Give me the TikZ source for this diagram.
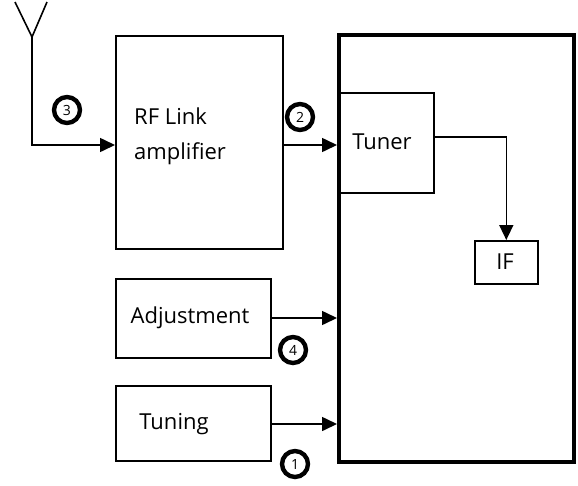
\documentclass[tikz,border=0pt]{standalone}
\usepackage{fontspec}
\setmainfont{Open Sans}
\usetikzlibrary{arrows.meta}
\begin{document}
\begin{tikzpicture}[x=1pt,y=-1pt,
  box/.style={draw,line width=1.6pt,inner sep=0pt,anchor=north west},
  txt/.style={font=\fontsize{22}{35}\selectfont,inner sep=0pt},
  conn/.style={line width=1.6pt,-{Triangle[length=15pt,width=14pt]}},
  num/.style={circle,draw,line width=4.4pt,minimum size=26pt,inner sep=0pt,font=\fontsize{14}{14}\selectfont}]
\useasboundingbox (0,0) rectangle (578,485);
% boxes
\node[box,minimum width=235pt,minimum height=427pt,line width=4.2pt] (main) at (337,33) {};
\node[box,minimum width=167pt,minimum height=213pt] (rf) at (115,35) {};
\node[box,minimum width=96pt,minimum height=100pt] (tuner) at (337,92) {};
\node[box,minimum width=63pt,minimum height=43pt] (if) at (474,240) {};
\node[box,minimum width=155pt,minimum height=79pt] (adj) at (115,278) {};
\node[box,minimum width=155pt,minimum height=75pt] (tun) at (115,385) {};
% texts
\node[txt,align=left,anchor=west] (rft) at (134,136) {RF Link\\amplifier};
\node[txt] (tunert) at (382,142) {Tuner};
\node[txt] (ift) at (505,262) {IF};
\node[txt] (adjt) at (190,318) {Adjustment};
\node[txt] (tunt) at (174,424) {Tuning};
% antenna
\coordinate (ant) at (32,37);
\coordinate (antl) at (15,2);
\coordinate (antr) at (47,2);
\coordinate (antc) at (32,145);
\draw[line width=1.6pt] (antl) -- (ant) -- (antr);
\draw[conn] (ant) -- (antc) -- (rf.west |- antc);
% connectors
\coordinate (o2) at (282,145);
\draw[conn] (o2) -- (main.west |- o2);
\draw[conn] (tuner.east |- 0,137) -| (if.north);
\draw[conn] (adj.east |- 0,318) -- (main.west |- 0,318);
\draw[conn] (tun.east |- 0,424) -- (main.west |- 0,424);
% numbers
\node[num] (n3) at (67,110) {3};
\node[num] (n2) at (300,117) {2};
\node[num] (n4) at (293,350) {4};
\node[num] (n1) at (295,464) {1};
\end{tikzpicture}
\end{document}
